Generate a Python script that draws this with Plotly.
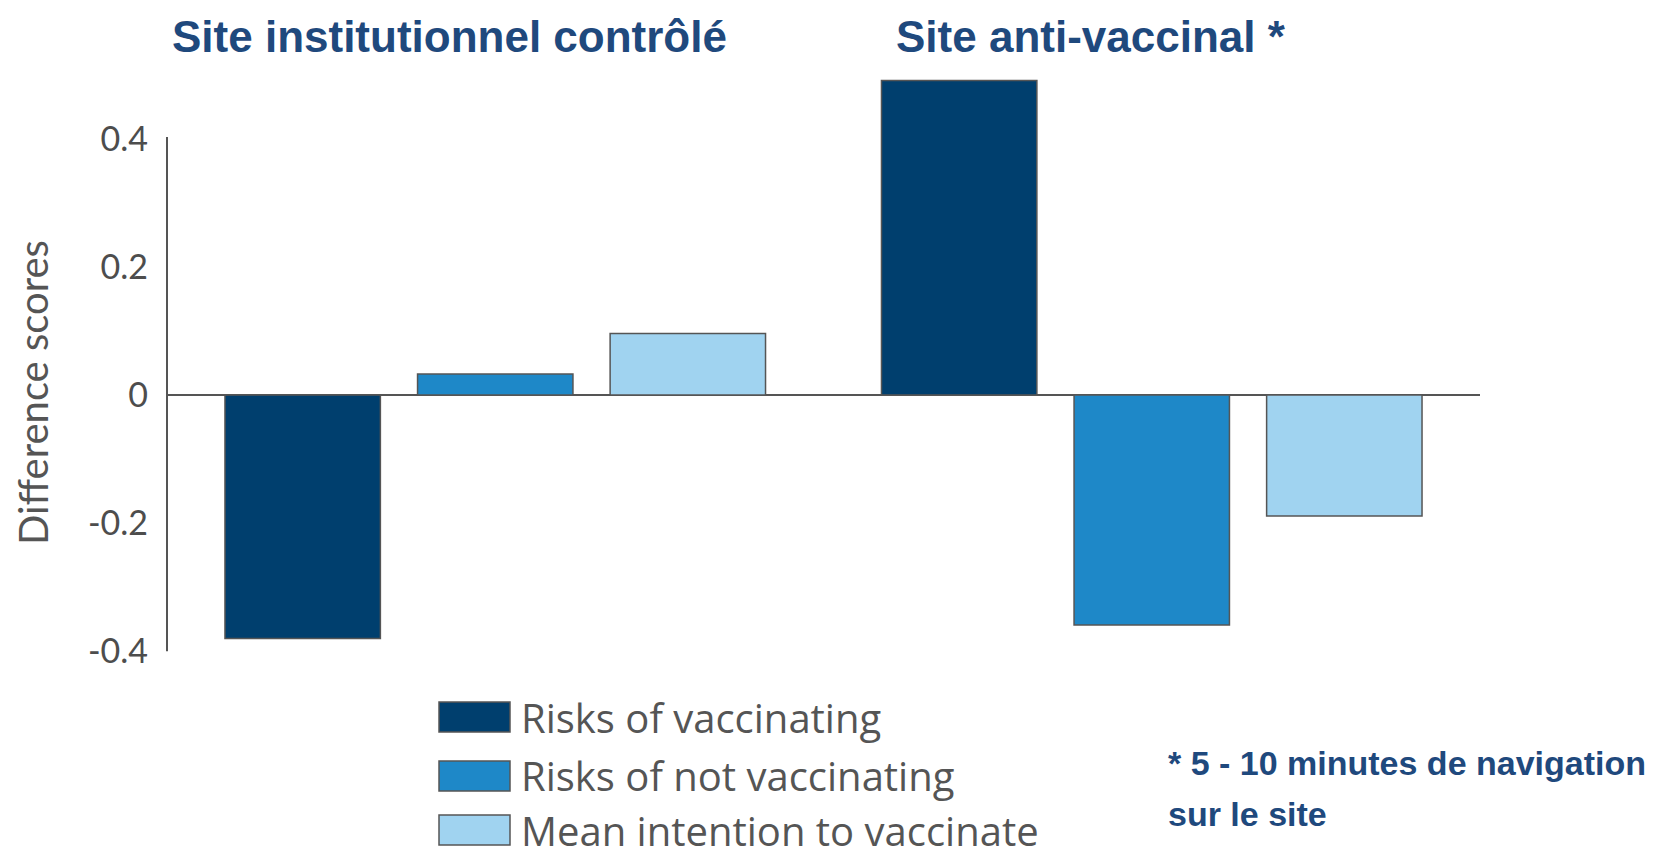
import plotly.graph_objects as go

# données
sites = ["Site institutionnel contrôlé", "Site anti-vaccinal *"]
series = ["Risks of vaccinating", "Risks of not vaccinating", "Mean intention to vaccinate"]
risques_vacciner = [-0.380, 0.491]
risques_ne_pas_vacciner = [0.033, -0.359]
intention_moyenne = [0.096, -0.189]
valeurs = [risques_vacciner, risques_ne_pas_vacciner, intention_moyenne]
couleurs = ["#003F6E", "#1E88C8", "#A0D3F0"]
yticks = [-0.4, -0.2, 0, 0.2, 0.4]
ytick_labels = ["-0.4", "-0.2", "0", "0.2", "0.4"]

# la page html ajoute 8px de marge en haut et à gauche de la figure
OFF = 8
PAGE_W, PAGE_H = 1666, 857
W, H = PAGE_W - OFF, PAGE_H - OFF
# zone de tracé en pixels de la page
X0, X1, Y0, Y1 = 167, 1480, 62, 664
ML, MR, MT, MB = X0 - OFF, PAGE_W - X1, Y0 - OFF, PAGE_H - Y1


def px_x(x):
    return (x - X0) / (X1 - X0)


def px_y(y):
    return (Y1 - y) / (Y1 - Y0)


fig = go.Figure()
for nom, vals, coul in zip(series, valeurs, couleurs):
    fig.add_trace(go.Bar(
        x=sites, y=vals, name=nom,
        marker=dict(color=coul, line=dict(color="#555555", width=1.5)),
        showlegend=False,
    ))

fig.update_layout(
    width=W, height=H,
    margin=dict(l=ML, r=MR, t=MT, b=MB, autoexpand=False),
    plot_bgcolor="white", paper_bgcolor="white",
    barmode="group", bargap=0.12, bargroupgap=0.193,
    font=dict(family="Open Sans, Lato, sans-serif", color="#555555"),
)
fig.update_xaxes(showticklabels=False, showline=False, showgrid=False,
                 zeroline=False, range=[-0.5, 1.5])
fig.update_yaxes(range=[-0.42, 0.52], tickvals=yticks, ticktext=ytick_labels,
                 showgrid=False, showline=False, zeroline=True,
                 zerolinecolor="#555555", zerolinewidth=2,
                 tickfont=dict(family="Lato, sans-serif", size=34, color="#4D4D4D"),
                 ticklabelstandoff=18)

# axe vertical de -0.4 à 0.4
fig.add_shape(type="line", xref="paper", yref="y", x0=0, x1=0, y0=-0.4, y1=0.403,
              line=dict(color="#555555", width=2))

# titre de l'axe
fig.add_annotation(text="Difference scores", xref="paper", yref="paper",
                   x=px_x(33), y=px_y(393), xanchor="center", yanchor="middle",
                   textangle=-90, showarrow=False,
                   font=dict(family="Lato, sans-serif", size=40, color="#555555"))

# titres des deux sites
titre_font = dict(family="Liberation Sans, Arial, sans-serif",
                  size=44, color="#1F497D", weight="bold")
for texte, x0 in zip(sites, [170, 894]):
    fig.add_annotation(text=texte, xref="paper", yref="paper", x=px_x(x0), y=px_y(37),
                       xanchor="left", yanchor="middle", showarrow=False, font=titre_font)

# note de bas de page
note_font = dict(family="Liberation Sans, Arial, sans-serif",
                 size=34, color="#1F497D", weight="bold")
for texte, y0 in zip(["* 5 - 10 minutes de navigation", "sur le site"], [763, 814]):
    fig.add_annotation(text=texte, xref="paper", yref="paper", x=px_x(1166), y=px_y(y0),
                       xanchor="left", yanchor="middle", showarrow=False, font=note_font)

# légende dessinée à la main (grands carrés)
for nom, coul, yc in zip(series, couleurs, [717, 776, 830]):
    fig.add_shape(type="rect", xref="paper", yref="paper",
                  x0=px_x(439), x1=px_x(510), y0=px_y(yc + 15), y1=px_y(yc - 15),
                  fillcolor=coul, line=dict(color="#555555", width=1.5))
    fig.add_annotation(text=nom, xref="paper", yref="paper", x=px_x(519), y=px_y(yc),
                       xanchor="left", yanchor="middle", showarrow=False,
                       font=dict(size=40, color="#555555"))

fig.write_html("out.html")
